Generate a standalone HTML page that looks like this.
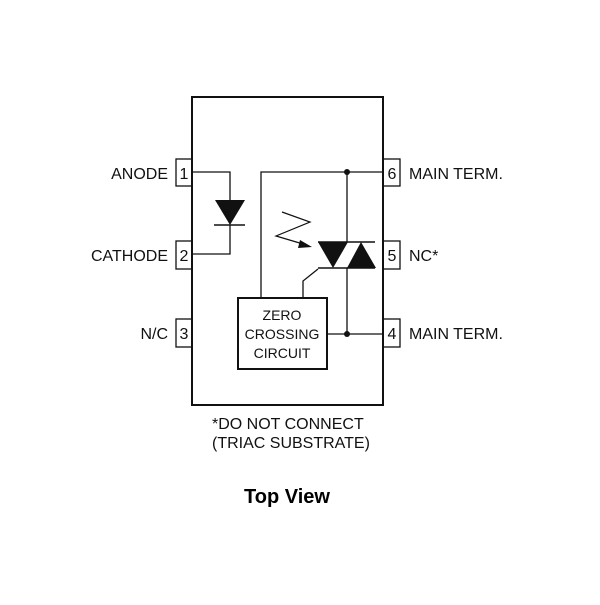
<!DOCTYPE html>
<html><head><style>body{margin:0;background:#fff}</style></head><body>
<svg width="600" height="600" viewBox="0 0 600 600" xmlns="http://www.w3.org/2000/svg" font-family="Liberation Sans, sans-serif">
<rect width="600" height="600" fill="#fff"/>
<g fill="none" stroke="#111">
<rect x="192" y="97" width="191" height="308" stroke-width="2"/>
<rect x="176" y="159" width="16" height="27" stroke-width="1.3"/>
<rect x="176" y="241" width="16" height="28" stroke-width="1.3"/>
<rect x="176" y="319" width="16" height="28" stroke-width="1.3"/>
<rect x="383" y="159" width="17" height="27" stroke-width="1.3"/>
<rect x="383" y="241" width="17" height="28" stroke-width="1.3"/>
<rect x="383" y="319" width="17" height="28" stroke-width="1.3"/>
<rect x="238" y="298" width="89" height="71" stroke-width="2"/>
<polyline points="192,172 230,172 230,200" stroke-width="1.3"/>
<polyline points="230,225 230,254 192,254" stroke-width="1.3"/>
<line x1="214" y1="225" x2="245" y2="225" stroke-width="1.5"/>
<polyline points="261,298 261,172 383,172" stroke-width="1.3"/>
<line x1="347" y1="172" x2="347" y2="242" stroke-width="1.3"/>
<line x1="318" y1="242" x2="375" y2="242" stroke-width="1.5"/>
<line x1="318" y1="268" x2="375" y2="268" stroke-width="1.5"/>
<polyline points="347,268 347,334" stroke-width="1.3"/>
<line x1="327" y1="334" x2="383" y2="334" stroke-width="1.3"/>
<polyline points="318,269 303,281 303,298" stroke-width="1.3"/>
<polyline points="282,212 310,222 276,236 303,244" stroke-width="1.2"/>
</g>
<g fill="#111">
<polygon points="215,200 245,200 230,225"/>
<polygon points="318,242 348,242 333,268"/>
<polygon points="347,268 376,268 361,242"/>
<polygon points="312,247 300,240 298,248"/>
<circle cx="347" cy="172" r="3"/>
<circle cx="347" cy="334" r="3"/>
</g>
<g font-size="16" fill="#111">
<text x="184" y="179" text-anchor="middle">1</text>
<text x="184" y="261" text-anchor="middle">2</text>
<text x="184" y="339" text-anchor="middle">3</text>
<text x="392" y="179" text-anchor="middle">6</text>
<text x="392" y="261" text-anchor="middle">5</text>
<text x="392" y="339" text-anchor="middle">4</text>
<text x="168" y="179" text-anchor="end">ANODE</text>
<text x="168" y="261" text-anchor="end">CATHODE</text>
<text x="168" y="339" text-anchor="end">N/C</text>
<text x="409" y="179">MAIN TERM.</text>
<text x="409" y="261">NC*</text>
<text x="409" y="339">MAIN TERM.</text>
<text x="212" y="429">*DO NOT CONNECT</text>
<text x="212" y="448">(TRIAC SUBSTRATE)</text>
</g>
<g font-size="14" fill="#111" text-anchor="middle">
<text x="282" y="320">ZERO</text>
<text x="282" y="339">CROSSING</text>
<text x="282" y="358">CIRCUIT</text>
</g>
<text x="287" y="503" font-size="20" font-weight="bold" text-anchor="middle" fill="#000">Top View</text>
</svg>
</body></html>
